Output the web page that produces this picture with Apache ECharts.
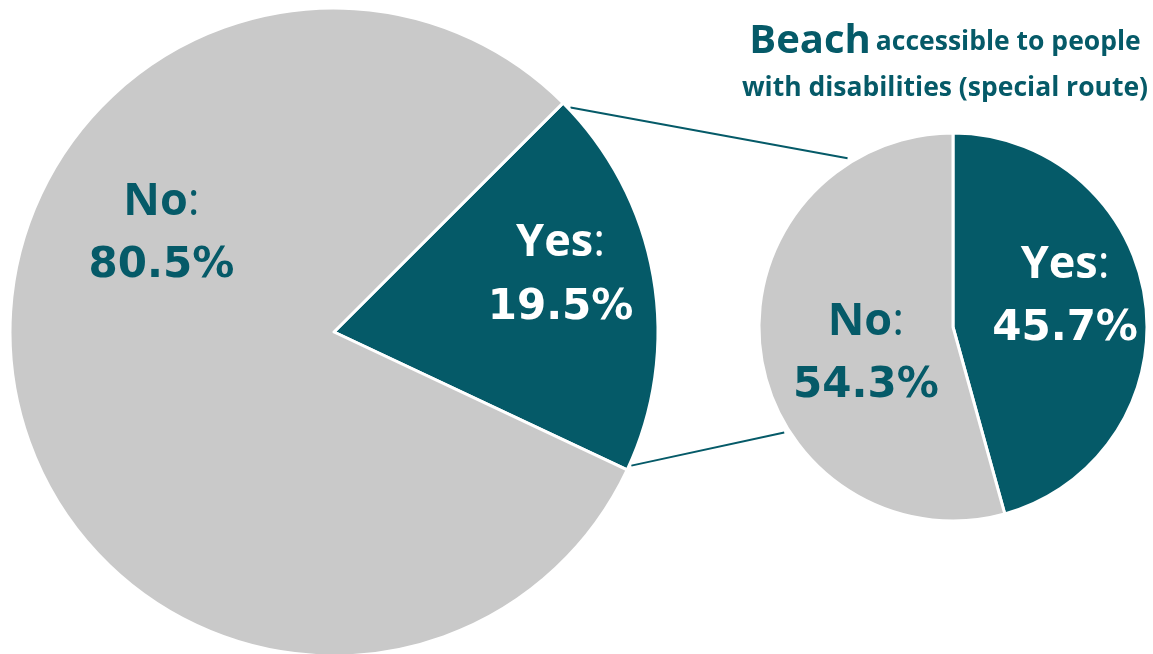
<!DOCTYPE html>
<html>
<head>
<meta charset="utf-8">
<script src="https://cdn.jsdelivr.net/npm/echarts@6/dist/echarts.min.js"></script>
<style>
html,body{margin:0;padding:0;background:#fff;}
#chart{width:1153px;height:654px;}
</style>
</head>
<body>
<div id="chart"></div>
<script>
// Data
const mainCategories = ['Yes', 'No'];
const mainValues = [19.5, 80.5];
const subCategories = ['Yes', 'No'];
const subValues = [45.7, 54.3];
const titleMain = 'Beach';
const titleSub1 = 'accessible to people';
const titleSub2 = 'with disabilities (special route)';

const TEAL = '#055a68';
const GREY = '#c9c9c9';
const FONT = '"Open Sans", "DejaVu Sans", sans-serif';
const NUMFONT = '"DejaVu Sans", "Open Sans", sans-serif';

const bigC = [334, 332], bigR = 324, bigStart = 45;
const smallC = [953, 327], smallR = 194, smallStart = 90;

function richFor(color) {
  return {
    b: {fontFamily: FONT, fontWeight: 'bold', fontSize: 45, color: color, lineHeight: 64},
    c: {fontFamily: FONT, fontWeight: 'normal', fontSize: 45, color: color, lineHeight: 64},
    v: {fontFamily: NUMFONT, fontWeight: 'bold', fontSize: 42, color: color, lineHeight: 64}
  };
}
function fmt(p) {
  return '{b|' + p.name + '}{c|:}\n{v|' + p.value.toFixed(1) + '%}';
}

const mainOffsets = {Yes: [64, -28], No: [-10, -126]};
const subOffsets = {Yes: [13, -16], No: [12, 14]};

function buildData(cats, vals, offsets) {
  return cats.map((c, i) => ({
    name: c,
    value: vals[i],
    itemStyle: {color: c === 'Yes' ? TEAL : GREY},
    label: {
      show: true, position: 'inside', formatter: fmt,
      offset: offsets[c],
      rich: richFor(c === 'Yes' ? '#ffffff' : TEAL)
    }
  }));
}

// Connector line geometry derived from pie geometry
const mainTotal = mainValues.reduce((a, b) => a + b, 0);
const yesSpan = mainValues[0] / mainTotal * 360;
function polar(c, r, deg) {
  const a = deg * Math.PI / 180;
  return [c[0] + r * Math.cos(a), c[1] - r * Math.sin(a)];
}
const p1 = polar(bigC, bigR + 2, bigStart - 1.5);
const p2 = polar(bigC, bigR + 2, bigStart - yesSpan + 1);
const q1 = polar(smallC, smallR + 5, 122);
const q2 = polar(smallC, smallR + 5, 212);

const chart = echarts.init(document.getElementById('chart'));
chart.setOption({
  backgroundColor: '#ffffff',
  animation: false,
  title: {
    left: 940, top: 14, textAlign: 'center',
    text: '{a|' + titleMain + '} {b|' + titleSub1 + '}\n{b|' + titleSub2 + '}',
    textStyle: {
      rich: {
        a: {fontFamily: FONT, fontWeight: 'bold', fontSize: 40, color: TEAL, lineHeight: 46},
        b: {fontFamily: FONT, fontWeight: 'bold', fontSize: 26.5, color: TEAL, lineHeight: 46}
      }
    }
  },
  graphic: [
    {type: 'line', z: 0, shape: {x1: p1[0], y1: p1[1], x2: q1[0], y2: q1[1]}, style: {stroke: TEAL, lineWidth: 2}},
    {type: 'line', z: 0, shape: {x1: p2[0], y1: p2[1], x2: q2[0], y2: q2[1]}, style: {stroke: TEAL, lineWidth: 2}}
  ],
  series: [
    {
      type: 'pie', center: bigC, radius: bigR, startAngle: bigStart, clockwise: true,
      silent: true,
      itemStyle: {borderColor: '#ffffff', borderWidth: 3},
      labelLine: {show: false},
      data: buildData(mainCategories, mainValues, mainOffsets)
    },
    {
      type: 'pie', center: smallC, radius: smallR, startAngle: smallStart, clockwise: true,
      silent: true,
      itemStyle: {borderColor: '#ffffff', borderWidth: 3},
      labelLine: {show: false},
      data: buildData(subCategories, subValues, subOffsets)
    }
  ]
});
</script>
</body>
</html>
